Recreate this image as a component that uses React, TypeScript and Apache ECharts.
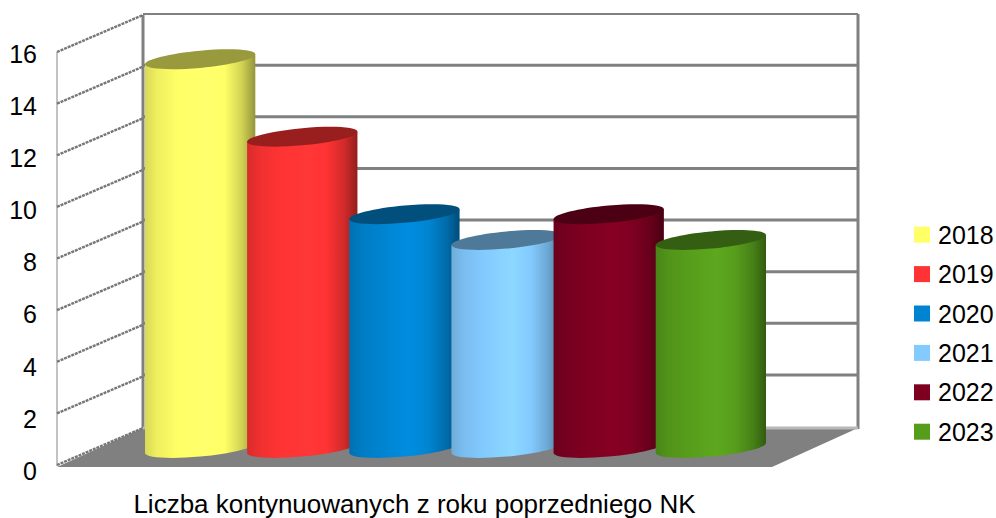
import React, { useEffect, useRef } from "react";
import * as echarts from "echarts";

const categories = ["Liczba kontynuowanych z roku poprzedniego NK"];
const years = ["2018", "2019", "2020", "2021", "2022", "2023"];
const values = [15, 12, 9, 8, 9, 8];
const colors = ["#ffff66", "#ff3333", "#0084d1", "#83caff", "#7e0021", "#579d1c"];
const ticks = [0, 2, 4, 6, 8, 10, 12, 14, 16];

const FONT = "'Liberation Sans', Arial, sans-serif";
const DEPTH_X = 86;
const DEPTH_Y = -37;

function shade(hex: string, k: number) {
  const n = parseInt(hex.slice(1), 16);
  const c = [(n >> 16) & 255, (n >> 8) & 255, n & 255].map((v) => Math.min(255, Math.round(v * k)));
  return `rgb(${c[0]},${c[1]},${c[2]})`;
}

function renderWalls(params: any, api: any) {
  const v = api.value(0);
  const [x0, y] = api.coord([0, v]);
  const band = api.size([1, 0])[0];
  const left = x0 - band / 2;
  const right = x0 + band / 2;
  const children: any[] = [];
  const top = api.coord([0, 16])[1];
  const zero = api.coord([0, 0])[1];
  if (v === 0) {
    children.push({
      type: "polygon",
      shape: {
        points: [
          [left, zero + 2],
          [left + DEPTH_X, zero + DEPTH_Y],
          [right + DEPTH_X, zero + DEPTH_Y],
          [right, zero + 2],
        ],
      },
      style: { fill: "#808080" },
    });
    children.push({
      type: "line",
      shape: { x1: left, y1: top, x2: left, y2: zero + 1 },
      style: { stroke: "#9a9a9a", lineWidth: 1.2 },
    });
    children.push({
      type: "line",
      shape: { x1: left + DEPTH_X, y1: top + DEPTH_Y, x2: left + DEPTH_X, y2: zero + DEPTH_Y },
      style: { stroke: "#808080", lineWidth: 3 },
    });
    children.push({
      type: "line",
      shape: { x1: right + DEPTH_X, y1: top + DEPTH_Y - 1, x2: right + DEPTH_X, y2: zero + DEPTH_Y + 1 },
      style: { stroke: "#808080", lineWidth: 3 },
    });
  }
  const inner = v !== 0 && v !== 16 ? -1.5 : v === 16 ? -1 : 0;
  children.push({
    type: "line",
    shape: { x1: left + DEPTH_X, y1: y + DEPTH_Y + inner, x2: right + DEPTH_X, y2: y + DEPTH_Y + inner },
    style: { stroke: v === 0 ? "#b8b8b8" : "#808080", lineWidth: v === 16 ? 2 : 3 },
  });
  children.push({
    type: "line",
    shape: { x1: left, y1: y, x2: left + DEPTH_X, y2: y + DEPTH_Y },
    style: { stroke: "#777777", lineWidth: 2.4, lineDash: [3, 0.9] },
  });
  return { type: "group", children };
}

const K = 0.5523;

function makeCylinder(index: number, color: string) {
  return (params: any, api: any) => {
    const band = api.size([1, 0])[0];
    const spacing = band / 7;
    const [xc, yTop] = api.coord([0, api.value(0)]);
    const yZero = api.coord([0, 0])[1];
    const cx = xc + 41 + (index - 2.5) * spacing;
    const a = spacing * 0.54;
    const b = 8.6;
    const s = 5;
    const ct = yTop - 18.5;
    const cb = yZero - 17;
    // Sheared ellipse: vertical tangents at both ends, so the sides meet it smoothly.
    const pt = (cy: number, u: number, v: number) =>
      `${cx + a * u} ${cy + b * v - s * u}`;
    const lowerArc = (cy: number) =>
      `C${pt(cy, -1, K)} ${pt(cy, -K, 1)} ${pt(cy, 0, 1)} C${pt(cy, K, 1)} ${pt(cy, 1, K)} ${pt(cy, 1, 0)}`;
    const upperArc = (cy: number) =>
      `C${pt(cy, 1, -K)} ${pt(cy, K, -1)} ${pt(cy, 0, -1)} C${pt(cy, -K, -1)} ${pt(cy, -1, -K)} ${pt(cy, -1, 0)}`;
    const body = `M${pt(ct, -1, 0)} L${pt(cb, -1, 0)} ${lowerArc(cb)} L${pt(ct, 1, 0)} Z`;
    const cap = `M${pt(ct, -1, 0)} ${lowerArc(ct)} ${upperArc(ct)} Z`;
    return {
      type: "group",
      children: [
        {
          type: "path",
          shape: { pathData: body },
          style: {
            fill: new echarts.graphic.LinearGradient(0, 0, 1, 0, [
              { offset: 0, color: shade(color, 0.85) },
              { offset: 0.12, color: shade(color, 0.94) },
              { offset: 0.3, color },
              { offset: 0.55, color: shade(color, 1.07) },
              { offset: 0.72, color },
              { offset: 0.88, color: shade(color, 0.82) },
              { offset: 1, color: shade(color, 0.58) },
            ]),
          },
        },
        { type: "path", shape: { pathData: cap }, style: { fill: shade(color, 0.6) } },
      ],
    };
  };
}

export default function App() {
  const ref = useRef<HTMLDivElement>(null);
  useEffect(() => {
    document.body.style.margin = "0";
    const chart = echarts.init(ref.current!, undefined, { renderer: "svg" });
    chart.setOption({
      animation: false,
      backgroundColor: "#ffffff",
      textStyle: { fontFamily: FONT },
      legend: {
        data: years,
        orient: "vertical",
        left: 914,
        top: 221,
        padding: 0,
        itemWidth: 16,
        itemHeight: 16,
        itemGap: 12,
        icon: "rect",
        textStyle: { fontFamily: FONT, fontSize: 25, color: "#000", padding: [0, 0, 0, 3], lineHeight: 27.4 },
      },
      grid: [
        { left: 57, right: 224, top: 52, bottom: 53 },
        { left: 57, width: 1, top: 54, bottom: 47.3 },
      ],
      xAxis: [
        {
          type: "category",
          gridIndex: 0,
          data: categories,
          axisLine: { show: false },
          axisTick: { show: false },
          axisLabel: { color: "#000", fontFamily: FONT, fontSize: 26, margin: 26 },
        },
        { type: "value", gridIndex: 1, show: false },
      ],
      yAxis: [
        { type: "value", gridIndex: 0, min: 0, max: 16, interval: 2, show: false },
        {
          type: "value",
          gridIndex: 1,
          min: 0,
          max: 16,
          interval: 2,
          position: "left",
          axisLine: { show: false },
          axisTick: { show: false },
          splitLine: { show: false },
          axisLabel: { color: "#000", fontFamily: FONT, fontSize: 25, margin: 20 },
        },
      ],
      series: [
        {
          type: "custom",
          name: "walls",
          xAxisIndex: 0,
          yAxisIndex: 0,
          silent: true,
          clip: false,
          data: ticks.map((t) => [t]),
          encode: { y: 0 },
          renderItem: renderWalls,
        },
        ...years.map((y, i) => ({
          type: "custom",
          name: y,
          xAxisIndex: 0,
          yAxisIndex: 0,
          clip: false,
          itemStyle: { color: colors[i] },
          data: [[values[i]]],
          encode: { y: 0 },
          renderItem: makeCylinder(i, colors[i]),
        })),
      ],
    });
    return () => chart.dispose();
  }, []);
  return <div ref={ref} style={{ width: 996, height: 518 }} />;
}
